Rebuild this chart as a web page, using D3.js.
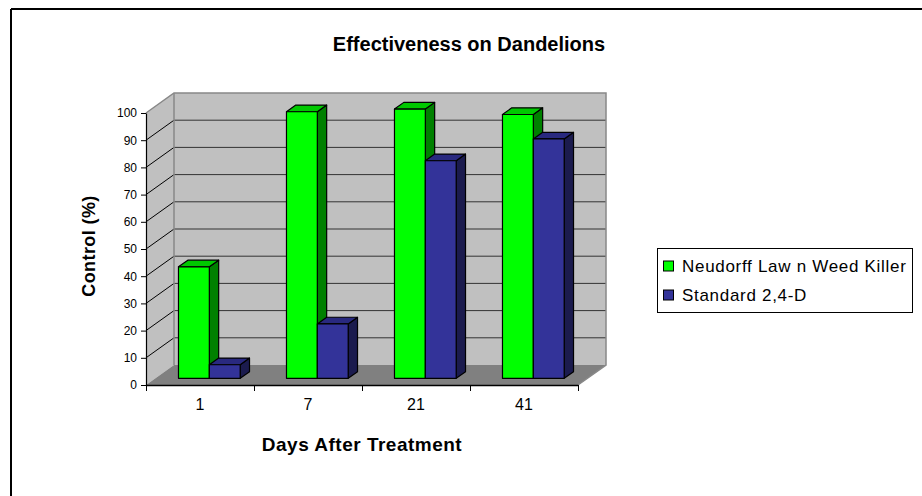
<!DOCTYPE html>
<html><head><meta charset="utf-8">
<script src="https://cdn.jsdelivr.net/npm/d3@7"></script>
<style>
html,body{margin:0;padding:0;background:#fff;}
svg{display:block;font-family:"Liberation Sans",Arial,sans-serif;}
</style></head>
<body>
<script>
const categories = ["1", "7", "21", "41"];
const seriesNames = ["Neudorff Law n Weed Killer", "Standard 2,4-D"];
const neudorffValues = [41, 98, 99, 97];
const standardValues = [5, 20, 80, 88];
const yTicks = [0, 10, 20, 30, 40, 50, 60, 70, 80, 90, 100];
const titleText = "Effectiveness on Dandelions";
const xTitle = "Days After Treatment";
const yTitle = "Control (%)";

const W = 922, H = 496;
const svg = d3.select("body").append("svg").attr("width", W).attr("height", H);

// outer frame (top and left visible)
svg.append("line").attr("x1", 11).attr("y1", 9).attr("x2", W).attr("y2", 9).attr("stroke", "#000").attr("stroke-width", 2);
svg.append("line").attr("x1", 11).attr("y1", 9).attr("x2", 11).attr("y2", H).attr("stroke", "#000").attr("stroke-width", 2);

// geometry
const x0 = 146, x1 = 578;
const depth = {dx: 28, dy: -20};
const y = d3.scaleLinear().domain([0, 100]).range([385, 113]);
const x = d3.scaleBand().domain(categories).range([x0, x1]).paddingInner(0).paddingOuter(0);
const xs = d3.scaleBand().domain(seriesNames).range([0, x.bandwidth()]).paddingInner(0).paddingOuter(0.75);
const xb = d3.scaleLinear().domain([0, categories.length]).range([x0, x1]);

const pt = (px, py) => px + "," + py;
const yMax = y(100), yMin = y(0);

// side wall
svg.append("polygon")
  .attr("points", [pt(x0, yMin), pt(x0 + depth.dx, yMin + depth.dy), pt(x0 + depth.dx, yMax + depth.dy), pt(x0, yMax)].join(" "))
  .attr("fill", "#c0c0c0").attr("stroke", "none");
// back wall
svg.append("rect")
  .attr("x", x0 + depth.dx).attr("y", yMax + depth.dy)
  .attr("width", x1 - x0).attr("height", yMin - yMax)
  .attr("fill", "#c0c0c0").attr("stroke", "none");
// floor
svg.append("polygon")
  .attr("points", [pt(x0, yMin), pt(x1, yMin), pt(x1 + depth.dx, yMin + depth.dy), pt(x0 + depth.dx, yMin + depth.dy)].join(" "))
  .attr("fill", "#808080").attr("stroke", "none");

// gridlines
const grid = svg.append("g");
yTicks.filter(v => v > 0 && v < 100).forEach(v => {
  grid.append("line").attr("x1", x0 + depth.dx).attr("x2", x1 + depth.dx)
    .attr("y1", y(v) + depth.dy).attr("y2", y(v) + depth.dy)
    .attr("stroke", "#333").attr("stroke-width", 1);
  grid.append("line").attr("x1", x0).attr("x2", x0 + depth.dx)
    .attr("y1", y(v)).attr("y2", y(v) + depth.dy)
    .attr("stroke", "#000").attr("stroke-width", 1);
});

// wall borders
const wallStroke = "#888";
svg.append("polyline")
  .attr("points", [pt(x0, yMax), pt(x0 + depth.dx, yMax + depth.dy), pt(x1 + depth.dx, yMax + depth.dy), pt(x1 + depth.dx, yMin + depth.dy), pt(x1, yMin)].join(" "))
  .attr("fill", "none").attr("stroke", wallStroke).attr("stroke-width", 1.5);
svg.append("line").attr("x1", x0 + depth.dx).attr("x2", x0 + depth.dx)
  .attr("y1", yMax + depth.dy).attr("y2", yMin + depth.dy)
  .attr("stroke", wallStroke).attr("stroke-width", 1.5);

// bars
const series = [
  {name: seriesNames[0], values: neudorffValues, front: "#00ff00", top: "#00c800", side: "#008000"},
  {name: seriesNames[1], values: standardValues, front: "#333399", top: "#29297f", side: "#1b1b4e"}
];
const b0 = {dx: depth.dx / 3, dy: depth.dy / 3};
const bd = {dx: depth.dx / 3, dy: depth.dy / 3};
const barsG = svg.append("g");
categories.forEach((c, ci) => {
  series.forEach(s => {
    const v = s.values[ci];
    const left = x(c) + xs(s.name) + b0.dx;
    const right = left + xs.bandwidth();
    const top = y(v) + b0.dy;
    const bottom = y(0) + b0.dy;
    const g = barsG.append("g").attr("stroke", "#000").attr("stroke-width", 1.2).attr("stroke-linejoin", "round");
    g.append("polygon").attr("fill", s.side)
      .attr("points", [pt(right, bottom), pt(right + bd.dx, bottom + bd.dy), pt(right + bd.dx, top + bd.dy), pt(right, top)].join(" "));
    g.append("polygon").attr("fill", s.top)
      .attr("points", [pt(left, top), pt(right, top), pt(right + bd.dx, top + bd.dy), pt(left + bd.dx, top + bd.dy)].join(" "));
    g.append("rect").attr("fill", s.front)
      .attr("x", left).attr("y", top).attr("width", right - left).attr("height", bottom - top);
  });
});

// y axis
const yAxis = svg.append("g").attr("transform", `translate(${x0},0)`)
  .call(d3.axisLeft(y).tickValues(yTicks).tickSize(5).tickSizeOuter(0).tickPadding(4));
yAxis.select(".domain").attr("stroke", "#000").attr("stroke-width", 1.2);
yAxis.selectAll(".tick line").attr("stroke", "#000");
yAxis.selectAll(".tick text").attr("font-size", 12).attr("font-family", "Liberation Sans, Arial, sans-serif").attr("fill", "#000");

// x axis ticks at boundaries
const xAxisTicks = svg.append("g").attr("transform", `translate(0,${yMin})`)
  .call(d3.axisBottom(xb).tickValues(d3.range(categories.length + 1)).tickFormat("").tickSize(6).tickSizeOuter(0));
xAxisTicks.select(".domain").attr("stroke", "#000").attr("stroke-width", 1.5);
xAxisTicks.selectAll(".tick line").attr("stroke", "#000");
// x labels at band centers
const xAxisLabels = svg.append("g").attr("transform", `translate(0,${yMin})`)
  .call(d3.axisBottom(x).tickSize(0).tickPadding(14));
xAxisLabels.select(".domain").remove();
xAxisLabels.selectAll(".tick text").attr("font-size", 16).attr("font-family", "Liberation Sans, Arial, sans-serif").attr("fill", "#000");

// titles
svg.append("text").attr("x", 469).attr("y", 51).attr("text-anchor", "middle")
  .attr("font-size", 20).attr("font-weight", "bold").text(titleText);
svg.append("text").attr("x", (x0 + x1) / 2).attr("y", 451).attr("text-anchor", "middle")
  .attr("font-size", 19).attr("letter-spacing", 0.5).attr("font-weight", "bold").text(xTitle);
svg.append("text").attr("transform", `translate(95,246) rotate(-90)`).attr("text-anchor", "middle")
  .attr("font-size", 18).attr("letter-spacing", 0.4).attr("font-weight", "bold").text(yTitle);

// legend
const lg = svg.append("g");
lg.append("rect").attr("x", 657.5).attr("y", 248.5).attr("width", 255).attr("height", 64)
  .attr("fill", "#fff").attr("stroke", "#000").attr("stroke-width", 1);
series.forEach((s, i) => {
  const cy = 266 + i * 29;
  lg.append("rect").attr("x", 663.5).attr("y", cy - 5).attr("width", 10).attr("height", 10)
    .attr("fill", s.front).attr("stroke", "#000").attr("stroke-width", 1);
  lg.append("text").attr("x", 682).attr("y", cy + 6).attr("font-size", 17).attr("letter-spacing", 0.7).attr("fill", "#000").text(s.name);
});
</script>
</body></html>
